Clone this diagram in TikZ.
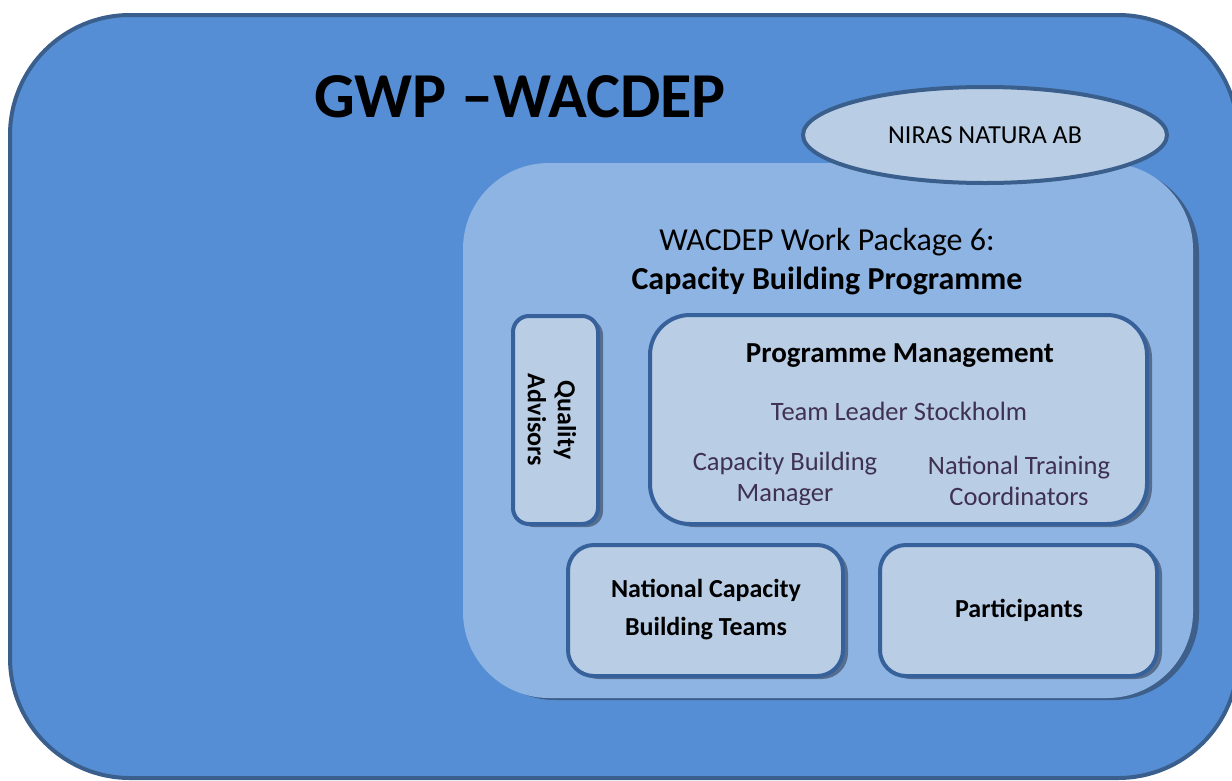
\documentclass[tikz,border=0pt]{standalone}
\usepackage{fontspec}
\setmainfont{Carlito}
\usetikzlibrary{shapes.geometric}
\definecolor{outerfill}{HTML}{558ED5}
\definecolor{outerline}{HTML}{3A5F8C}
\definecolor{panelfill}{HTML}{8EB4E3}
\definecolor{panelshade}{HTML}{3D5F8A}
\definecolor{boxfill}{HTML}{B9CDE5}
\definecolor{boxline}{HTML}{37619A}
\definecolor{boxshade}{HTML}{566E8E}
\definecolor{roletext}{HTML}{3F3151}
\newcommand{\fs}[2]{\fontsize{#1}{#2}\selectfont}
\tikzset{
  unitbox/.style={draw=boxline, line width=4pt, fill=boxfill},
  unitshade/.style={fill=boxshade, draw=none},
  lbl/.style={inner sep=0pt, align=center, text=black},
  role/.style={inner sep=0pt, align=center, text=roletext},
}
\begin{document}
\begin{tikzpicture}[x=1pt,y=-1pt]
\useasboundingbox (0,0) rectangle (1232,780);
% organisation frame
\draw[draw=outerline, line width=4pt, fill=outerfill, rounded corners=120pt]
  (10,15) rectangle (1238,778);
% work package panel with its shadow
\fill[panelshade, rounded corners=86pt] (469,167) rectangle (1199,700);
\fill[panelfill, rounded corners=86pt] (463,163) rectangle (1193,698);
% consultant ellipse
\node[ellipse, draw=outerline, line width=4pt, fill=boxfill,
      minimum width=364pt, minimum height=96pt, inner sep=0pt] (niras) at (985,135) {};
\node[lbl, font=\fs{26}{30}] (nirastext) at (985,135) {NIRAS NATURA AB};
% title
\node[lbl, font=\fs{64}{70}\bfseries] (title) at (520,97) {GWP –WACDEP};
\node[lbl, font=\fs{32}{39}] (wp) at (827,262) {WACDEP Work Package 6:\\\bfseries Capacity Building Programme};
% unit shadows
\fill[unitshade, rounded corners=16pt] (518,319) rectangle (603,527);
\fill[unitshade, rounded corners=40pt] (655,318) rectangle (1152,527);
\fill[unitshade, rounded corners=26pt] (573,548) rectangle (848,679);
\fill[unitshade, rounded corners=26pt] (885,548) rectangle (1162,679);
% units
\draw[unitbox, rounded corners=16pt] (513,316) rectangle (598,524);
\draw[unitbox, rounded corners=40pt] (650,315) rectangle (1147,524);
\draw[unitbox, rounded corners=26pt] (568,545) rectangle (843,676);
\draw[unitbox, rounded corners=26pt] (880,545) rectangle (1157,676);
% unit labels
\node[lbl, rotate=-90, font=\fs{26}{30}\bfseries] (qa) at (552,420) {Quality\\Advisors};
\node[lbl, font=\fs{29}{34}\bfseries] (pm) at (900,356) {Programme Management};
\node[role, font=\fs{26.5}{31}] (tl) at (899,411) {Team Leader Stockholm};
\begin{scope}
  \clip (650,430) rectangle (1147,504);
  \node[role, font=\fs{26.5}{31}] (cbm) at (785,479) {Capacity Building\\Manager};
  \node[role, font=\fs{26.5}{31}] (ntc) at (1019,481) {National Training\\Coordinators};
\end{scope}
\node[lbl, font=\fs{26}{38}\bfseries] (ncbt) at (706,610) {National Capacity\\Building Teams};
\node[lbl, font=\fs{26}{30}\bfseries] (part) at (1019,610) {Participants};
\end{tikzpicture}
\end{document}
